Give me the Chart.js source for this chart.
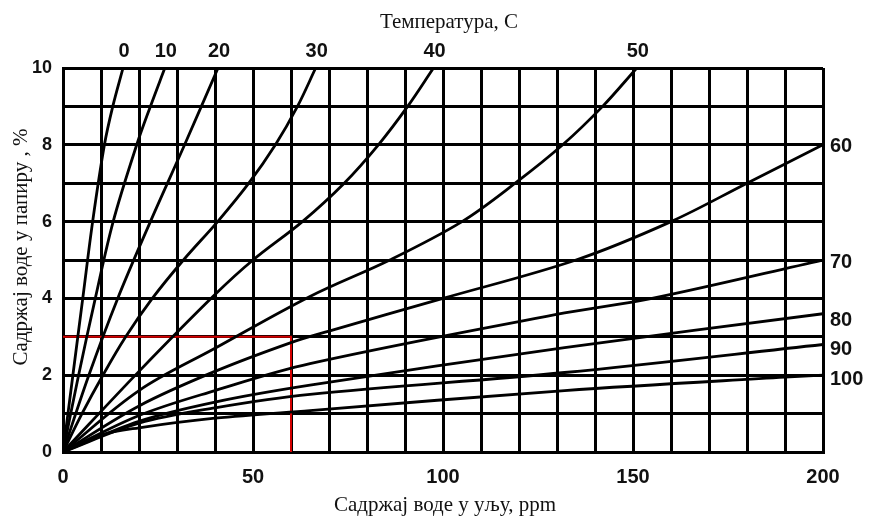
<!DOCTYPE html>
<html>
<head>
<meta charset="utf-8">
<script src="https://cdn.jsdelivr.net/npm/chart.js@4/dist/chart.umd.min.js"></script>
<style>
  html, body { margin: 0; padding: 0; background: #fff; }
  #wrap { width: 873px; height: 516px; }
</style>
</head>
<body>
<div id="wrap"><canvas id="chart" width="873" height="516"></canvas></div>
<script>
'use strict'

// water content in oil (ppm) vs water content in paper (%), one curve per temperature
const ppm0 = [0, 2.6, 5.2, 7.8, 10.9, 13.1, 15.8]
const pct0 = [0, 2, 4, 6, 8, 9, 10]
const ppm10 = [0, 4.1, 8.5, 13.2, 19.4, 23.0, 26.8]
const pct10 = [0, 2, 4, 6, 8, 9, 10]
const ppm20 = [0, 6.8, 14.4, 23.0, 32.0, 40.8]
const pct20 = [0, 2, 4, 6, 8, 10]
const ppm30 = [0, 5, 10.5, 16.5, 23.5, 31.7, 40.7, 48.9, 55.9, 61.7, 66.5]
const pct30 = [0, 1, 2, 3, 4, 5, 6, 7, 8, 9, 10]
const ppm40 = [0, 20, 40, 50, 63, 74, 83, 90.7, 97.5]
const pct40 = [0, 2.1, 4.1, 5, 6, 7, 8, 9, 10]
const ppm50 = [0, 20, 40, 65, 86, 105, 119, 131.5, 142, 151]
const pct50 = [0, 1.6, 2.7, 4.05, 5, 6, 7, 8, 9, 10]
const ppm60 = [0, 20, 40, 60, 70, 100, 135, 160, 180, 200]
const pct60 = [0, 1.2, 2.1, 2.85, 3.15, 4, 5, 6, 7, 8]
const ppm70 = [0, 20, 40, 65, 132, 155, 200]
const pct70 = [0, 0.95, 1.6, 2.3, 3.62, 4, 5]
const ppm80 = [0, 20, 40, 65, 132, 200]
const pct80 = [0, 0.8, 1.3, 1.74, 2.72, 3.6]
const ppm90 = [0, 20, 40, 65, 132, 200]
const pct90 = [0, 0.75, 1.15, 1.5, 2.07, 2.8]
const ppm100 = [0, 10, 20, 40, 65, 132, 190, 200]
const pct100 = [0, 0.44, 0.63, 0.88, 1.08, 1.6, 1.95, 2]

const temps = [0, 10, 20, 30, 40, 50, 60, 70, 80, 90, 100]
const curvePpm = [ppm0, ppm10, ppm20, ppm30, ppm40, ppm50, ppm60, ppm70, ppm80, ppm90, ppm100]
const curvePct = [pct0, pct10, pct20, pct30, pct40, pct50, pct60, pct70, pct80, pct90, pct100]

// the red reading guide: 60 ppm -> 3 %
const guidePpm = [0, 60, 60]
const guidePct = [3, 3, 0]

const xLabelTicks = [0, 50, 100, 150, 200]
const yLabelTicks = [0, 2, 4, 6, 8, 10]

const topTitle = 'Температура, С'
const xTitle = 'Садржај воде у уљу, ppm'
const yTitle = 'Садржај воде у папиру , %'

const datasets = curvePpm.map((xs, i) => ({
  label: String(temps[i]),
  data: xs.map((x, j) => ({ x, y: curvePct[i][j] })),
  borderColor: '#000',
  borderWidth: 2.8,
  pointRadius: 0,
  tension: 0.35,
  fill: false,
}))
datasets.push({
  label: 'guide',
  data: guidePpm.map((x, j) => ({ x, y: guidePct[j] })),
  borderColor: '#d40000',
  borderWidth: 2,
  pointRadius: 0,
  tension: 0,
  fill: false,
})

// small vertical nudges so the crowded right-hand labels don't collide
const rightNudge = { 80: 5, 90: 3, 100: 2 }

const curveLabels = {
  id: 'curveLabels',
  afterDraw(chart) {
    const { ctx, chartArea, scales } = chart
    const sx = scales.x
    const sy = scales.y
    ctx.save()
    ctx.fillStyle = '#111'
    ctx.font = 'bold 20px "Liberation Sans", Arial, sans-serif'
    ctx.textBaseline = 'middle'
    curvePpm.forEach((xs, i) => {
      const lastX = xs[xs.length - 1]
      const lastY = curvePct[i][curvePct[i].length - 1]
      if (lastY >= 10) {
        ctx.textAlign = 'center'
        ctx.fillText(String(temps[i]), sx.getPixelForValue(lastX) + 1, chartArea.top - 17)
      } else {
        ctx.textAlign = 'left'
        ctx.fillText(String(temps[i]), chartArea.right + 7, sy.getPixelForValue(lastY) + 2 + (rightNudge[temps[i]] || 0))
      }
    })
    ctx.font = '21px "Liberation Serif", "DejaVu Serif", serif'
    ctx.textAlign = 'center'
    ctx.fillText(topTitle, 449, 22)
    ctx.fillText(xTitle, 445, 505)
    ctx.translate(21, 247)
    ctx.rotate(-Math.PI / 2)
    ctx.fillText(yTitle, 0, 0)
    ctx.restore()
  },
}

new Chart(document.getElementById('chart'), {
  type: 'line',
  data: { datasets },
  options: {
    responsive: false,
    animation: false,
    layout: { padding: { top: 68, right: 50, left: 0, bottom: 0 } },
    plugins: { legend: { display: false }, tooltip: { enabled: false } },
    scales: {
      x: {
        type: 'linear',
        min: 0,
        max: 200,
        afterFit(scale) { scale.height = 64 },
        border: { color: '#000', width: 3 },
        grid: { color: '#000', lineWidth: 3, drawTicks: false },
        ticks: {
          stepSize: 10,
          autoSkip: false,
          maxRotation: 0,
          padding: 13,
          color: '#111',
          font: { family: '"Liberation Sans", Arial, sans-serif', size: 20, weight: 'bold' },
          callback: (v) => (xLabelTicks.includes(v) ? String(v) : ''),
        },
      },
      y: {
        type: 'linear',
        min: 0,
        max: 10,
        afterFit(scale) { scale.width = 63 },
        border: { color: '#000', width: 3 },
        grid: { color: '#000', lineWidth: 3, drawTicks: false },
        ticks: {
          stepSize: 1,
          autoSkip: false,
          padding: 11,
          color: '#111',
          font: { family: '"Liberation Sans", Arial, sans-serif', size: 18, weight: 'bold' },
          callback: (v) => (yLabelTicks.includes(v) ? String(v) : ''),
        },
      },
    },
  },
  plugins: [curveLabels],
})
</script>
</body>
</html>
